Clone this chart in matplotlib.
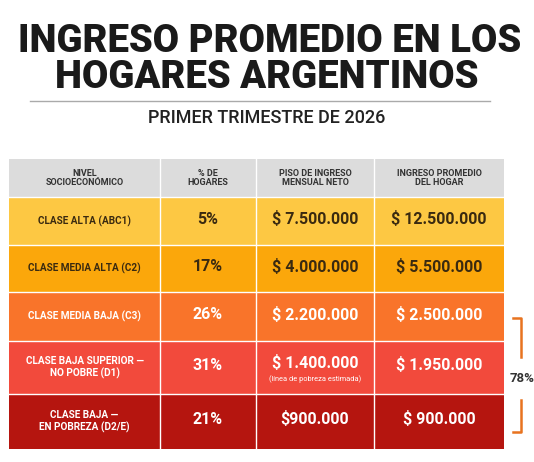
import matplotlib
matplotlib.use("Agg")
import matplotlib.pyplot as plt
from matplotlib.patches import Rectangle

headers = ["NIVEL\nSOCIOECONÓMICO", "% DE\nHOGARES", "PISO DE INGRESO\nMENSUAL NETO", "INGRESO PROMEDIO\nDEL HOGAR"]
classes = ["CLASE ALTA (ABC1)", "CLASE MEDIA ALTA (C2)", "CLASE MEDIA BAJA (C3)",
           "CLASE BAJA SUPERIOR —\nNO POBRE (D1)", "CLASE BAJA —\nEN POBREZA (D2/E)"]
shares = ["5%", "17%", "26%", "31%", "21%"]
floors = ["$ 7.500.000", "$ 4.000.000", "$ 2.200.000", "$ 1.400.000", "$900.000"]
averages = ["$ 12.500.000", "$ 5.500.000", "$ 2.500.000", "$ 1.950.000", "$ 900.000"]
row_colors = ["#fdc843", "#fba70b", "#f9742a", "#f24a3c", "#b5150f"]
text_colors = ["#3a2a10", "#3a2a10", "white", "white", "white"]

W, H = 534, 462
fig = plt.figure(figsize=(W/100, H/100), dpi=100)
ax = fig.add_axes([0, 0, 1, 1])
ax.set_xlim(0, W); ax.set_ylim(H, 0); ax.axis("off")
F = "Roboto"

ax.text(270, 42, "INGRESO PROMEDIO EN LOS", ha="center", va="center", fontsize=27.5, fontweight="black", family=F, color="#1a1a1a")
ax.text(267, 78, "HOGARES ARGENTINOS", ha="center", va="center", fontsize=27.5, fontweight="black", family=F, color="#1a1a1a")
ax.plot([30, 490], [101, 101], color="#aaaaaa", lw=1)
ax.text(267, 118, "PRIMER TRIMESTRE DE 2026", ha="center", va="center", fontsize=13, fontweight="medium", family=F, color="#222222")

cols = [9, 160, 256, 374, 504]
rows = [159, 197, 245, 292, 341, 394, 449]

ax.add_patch(Rectangle((cols[0], rows[0]), cols[-1]-cols[0], rows[1]-rows[0], color="#dcdcdc", lw=0))
for j, h in enumerate(headers):
    ax.text((cols[j]+cols[j+1])/2, (rows[0]+rows[1])/2, h, ha="center", va="center", fontsize=6.5, fontweight="bold", family=F, color="#333333", linespacing=1.1)

for i in range(5):
    y0, y1 = rows[i+1], rows[i+2]
    ax.add_patch(Rectangle((cols[0], y0), cols[-1]-cols[0], y1-y0, color=row_colors[i], lw=0))
    yc = (y0+y1)/2
    tc = text_colors[i]
    ax.text((cols[0]+cols[1])/2, yc, classes[i], ha="center", va="center", fontsize=7.2, fontweight="bold", family=F, color=tc, linespacing=1.1)
    ax.text((cols[1]+cols[2])/2, yc-2, shares[i], ha="center", va="center", fontsize=11.5, fontweight="bold", family=F, color=tc)
    fy = yc-5 if i == 3 else yc-2
    ax.text((cols[2]+cols[3])/2, fy, floors[i], ha="center", va="center", fontsize=11.5, fontweight="bold", family=F, color=tc)
    if i == 3:
        ax.text((cols[2]+cols[3])/2, yc+12, "(línea de pobreza estimada)", ha="center", va="center", fontsize=5.3, family=F, color=tc)
    ax.text((cols[3]+cols[4])/2, yc-2, averages[i], ha="center", va="center", fontsize=11.5, fontweight="bold", family=F, color=tc)

for x in cols[1:-1]:
    ax.plot([x, x], [rows[0], rows[-1]], color="white", lw=1)
for y in rows[1:-1]:
    ax.plot([cols[0], cols[-1]], [y, y], color="white", lw=1)

bc = "#e8731f"
ax.plot([513, 521, 521], [318, 318, 357], color=bc, lw=1.8)
ax.plot([521, 521, 513], [400, 432, 432], color=bc, lw=1.8)
ax.text(510, 379, "78%", ha="left", va="center", fontsize=9.5, fontweight="bold", family=F, color="#333333")

fig.savefig("out.png", dpi=100)
